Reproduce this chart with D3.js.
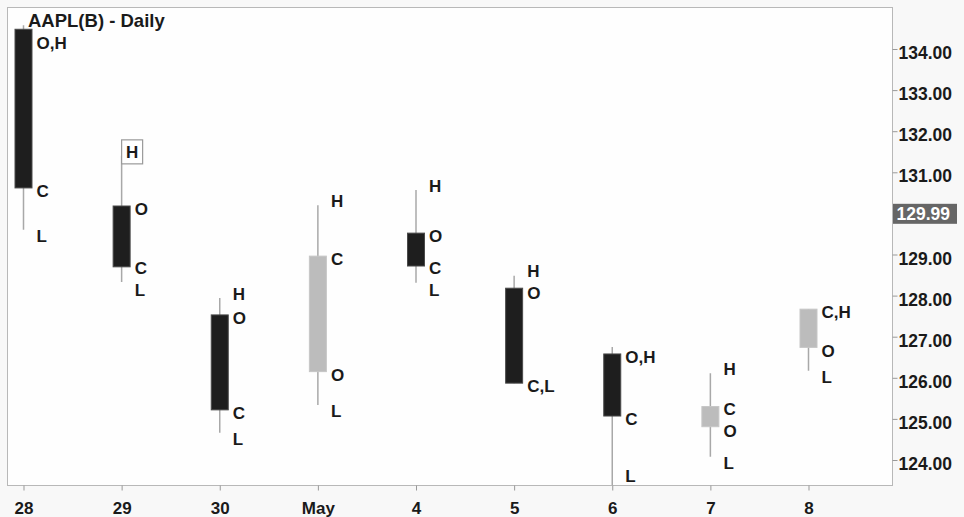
<!DOCTYPE html>
<html><head><meta charset="utf-8">
<script src="https://cdn.jsdelivr.net/npm/d3@7"></script>
<style>
html,body{margin:0;padding:0;background:#f8f8f8;}
svg{display:block;font-family:"Liberation Sans",Arial,Helvetica,sans-serif;}
</style></head>
<body>
<svg id="chart" width="964" height="517"></svg>
<script>
const title = "AAPL(B) - Daily";
const dates = ["28","29","30","May","4","5","6","7","8"];
const open  = [134.48,130.18,127.53,126.15,129.52,128.18,126.58,124.81,126.74];
const high  = [134.58,131.40,127.94,130.20,130.57,128.48,126.75,126.11,127.67];
const low   = [129.60,128.33,124.66,125.34,128.31,125.87,123.39,124.08,126.17];
const close = [130.62,128.70,125.22,128.96,128.72,125.87,125.07,125.30,127.67];
const labelSets = [
  ["O,H","C","L"],["H","O","C","L"],["H","O","C","L"],["H","C","O","L"],
  ["H","O","C","L"],["H","O","C,L"],["O,H","C","L"],["H","C","O","L"],["C,H","O","L"]
];
const boxedLabel = {candle:"29", text:"H"};
const yTicks = [124,125,126,127,128,129,131,132,133,134];
const lastPrice = 129.99;

const svg = d3.select("#chart");
const frame = {left:7.5, top:7.5, right:892.5, bottom:485.5};

const x = d3.scalePoint().domain(dates).range([23.5, 808.5]);
const y = d3.scaleLinear().domain([124,134]).range([460,49]);

// plot background + frame
svg.append("rect").attr("x",frame.left).attr("y",frame.top)
  .attr("width",frame.right-frame.left).attr("height",frame.bottom-frame.top)
  .attr("fill","#fefefe").attr("stroke","#b8b8b8").attr("stroke-width",1);

svg.append("clipPath").attr("id","clip").append("rect")
  .attr("x",frame.left).attr("y",frame.top)
  .attr("width",frame.right-frame.left).attr("height",frame.bottom-frame.top);

const data = dates.map((d,i)=>({d, o:open[i], h:high[i], l:low[i], c:close[i], labels:labelSets[i]}));
const bw = 17;

const g = svg.append("g").attr("clip-path","url(#clip)");
// wicks
g.selectAll("line.wick").data(data).join("line").attr("class","wick")
  .attr("x1",d=>x(d.d)).attr("x2",d=>x(d.d))
  .attr("y1",d=>y(d.h)).attr("y2",d=>y(d.l))
  .attr("stroke","#a8a8a8").attr("stroke-width",1.5);
// bodies
g.selectAll("rect.body").data(data).join("rect").attr("class","body")
  .attr("x",d=>x(d.d)-bw/2)
  .attr("y",d=>y(Math.max(d.o,d.c)))
  .attr("width",bw)
  .attr("height",d=>Math.abs(y(d.o)-y(d.c)))
  .attr("fill",d=>d.c<d.o?"#1e1e1e":"#bcbcbc")
  .attr("stroke",d=>d.c<d.o?"#4a4a4a":"#c6c6c6").attr("stroke-width",1);

// title
svg.append("text").attr("x",28).attr("y",27).text(title)
  .attr("font-size","18.5px").attr("font-weight","bold").attr("fill","#1a1a1a");

// OHLC labels with simple collision spreading
const keyVal = (d,t)=>({O:d.o,H:d.h,L:d.l,C:d.c})[t[0]];
const offs = {H:-4, L:6, O:3, C:3};
const minGap = 22, minY = 43, maxY = frame.bottom - 10;
data.forEach(d=>{
  let labs = d.labels.map(t=>({t, yy:y(keyVal(d,t))+offs[t[0]]}));
  labs.sort((a,b)=>a.yy-b.yy);
  for(let it=0; it<40; it++){
    for(let k=1;k<labs.length;k++){
      const gap = labs[k].yy-labs[k-1].yy;
      if(gap<minGap){ const s=(minGap-gap)/2; labs[k-1].yy-=s; labs[k].yy+=s; }
    }
    if(labs[0].yy<minY) labs[0].yy=minY;
    if(labs[labs.length-1].yy>maxY) labs[labs.length-1].yy=maxY;
  }
  labs.forEach(l=>{
    if(d.d===boxedLabel.candle && l.t===boxedLabel.text){
      svg.append("rect").attr("x",x(d.d)).attr("y",l.yy-12)
        .attr("width",21).attr("height",24)
        .attr("fill","#fff").attr("stroke","#9a9a9a").attr("stroke-width",1.2);
      svg.append("text").attr("x",x(d.d)+10.5).attr("y",l.yy).attr("dy","0.36em")
        .attr("text-anchor","middle").text(l.t)
        .attr("font-size","17px").attr("font-weight","bold").attr("fill","#1a1a1a");
    } else {
      svg.append("text").attr("x",x(d.d)+13).attr("y",l.yy).attr("dy","0.36em").text(l.t)
        .attr("font-size","17px").attr("font-weight","bold").attr("fill","#1a1a1a");
    }
  });
});

// right axis
const ya = svg.append("g").attr("transform",`translate(${frame.right},0)`)
  .call(d3.axisRight(y).tickValues(yTicks).tickSize(5).tickPadding(1).tickFormat(d=>d.toFixed(2)));
ya.select(".domain").remove();
ya.selectAll(".tick line").attr("stroke","#999");
ya.selectAll(".tick text").attr("font-size","17.5px").attr("font-weight","bold")
  .attr("fill","#1a1a1a").attr("dy","0.55em").attr("font-family","Liberation Sans, Arial, sans-serif");

// last price marker
const lp = svg.append("g");
lp.append("rect").attr("x",frame.right+0.5).attr("y",y(lastPrice)-10).attr("width",64).attr("height",20)
  .attr("fill","#666");
lp.append("text").attr("x",frame.right+4).attr("y",y(lastPrice)).attr("dy","0.36em")
  .text(lastPrice.toFixed(2)).attr("font-size","17.5px").attr("font-weight","bold").attr("fill","#fff");

// bottom axis
const xa = svg.append("g").attr("transform",`translate(0,${frame.bottom})`)
  .call(d3.axisBottom(x).tickSize(5).tickPadding(11));
xa.select(".domain").remove();
xa.selectAll(".tick line").attr("stroke","#999");
xa.selectAll(".tick text").attr("font-size","17px").attr("font-weight","bold")
  .attr("fill","#1a1a1a").attr("font-family","Liberation Sans, Arial, sans-serif");
</script>
</body></html>
